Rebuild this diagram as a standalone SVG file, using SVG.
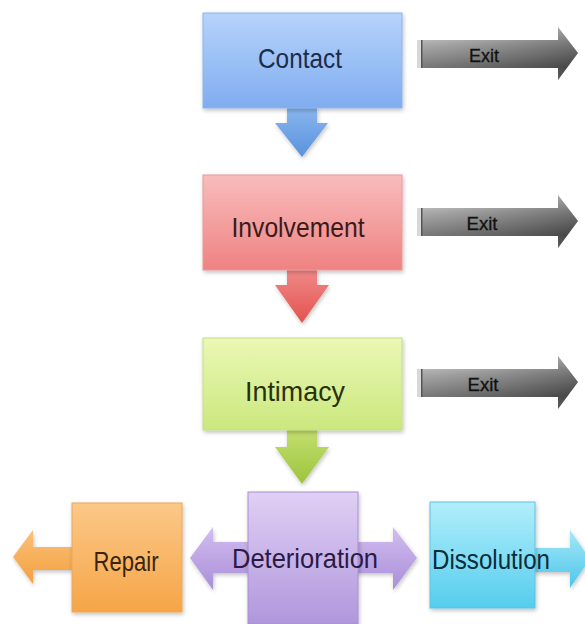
<svg xmlns="http://www.w3.org/2000/svg" width="585" height="624" viewBox="0 0 585 624">
<defs>
<style>
.lbl{font-family:"Liberation Sans","Open Sans",sans-serif;font-size:28px;text-anchor:middle}
.exit{font-family:"Liberation Sans","Open Sans",sans-serif;font-size:19px;text-anchor:middle;fill:#111;stroke:#111;stroke-width:0.3}
.box{stroke-width:1}
</style>
<linearGradient id="gBlue" x1="0" y1="0" x2="0" y2="1"><stop offset="0" stop-color="#b6d3fb"/><stop offset="1" stop-color="#80adf0"/></linearGradient>
<linearGradient id="gBlueA" x1="0" y1="0" x2="0" y2="1"><stop offset="0" stop-color="#8ab6ef"/><stop offset="1" stop-color="#5a92dc"/></linearGradient>
<linearGradient id="gRed" x1="0" y1="0" x2="0" y2="1"><stop offset="0" stop-color="#f9bcbc"/><stop offset="1" stop-color="#ef8282"/></linearGradient>
<linearGradient id="gRedA" x1="0" y1="0" x2="0" y2="1"><stop offset="0" stop-color="#f18a88"/><stop offset="1" stop-color="#e2534f"/></linearGradient>
<linearGradient id="gGreen" x1="0" y1="0" x2="0" y2="1"><stop offset="0" stop-color="#eaf8b4"/><stop offset="1" stop-color="#cbe87e"/></linearGradient>
<linearGradient id="gGreenA" x1="0" y1="0" x2="0" y2="1"><stop offset="0" stop-color="#c3df70"/><stop offset="1" stop-color="#9dc43c"/></linearGradient>
<linearGradient id="gOrange" x1="0" y1="0" x2="0" y2="1"><stop offset="0" stop-color="#fcc888"/><stop offset="1" stop-color="#f6a547"/></linearGradient>
<linearGradient id="gOrangeA" x1="0" y1="0" x2="0" y2="1"><stop offset="0" stop-color="#fbc078"/><stop offset="1" stop-color="#f3a040"/></linearGradient>
<linearGradient id="gPurple" x1="0" y1="0" x2="0" y2="1"><stop offset="0" stop-color="#e0cff5"/><stop offset="1" stop-color="#b097dc"/></linearGradient>
<linearGradient id="gPurpleA" x1="0" y1="0" x2="0" y2="1"><stop offset="0" stop-color="#d2bdf0"/><stop offset="1" stop-color="#a98fd8"/></linearGradient>
<linearGradient id="gCyan" x1="0" y1="0" x2="0" y2="1"><stop offset="0" stop-color="#b2eefb"/><stop offset="1" stop-color="#55cdee"/></linearGradient>
<linearGradient id="gCyanA" x1="0" y1="0" x2="0" y2="1"><stop offset="0" stop-color="#a6e8f8"/><stop offset="1" stop-color="#4cc6ea"/></linearGradient>
<linearGradient id="gExit" x1="0" y1="0" x2="0" y2="1"><stop offset="0" stop-color="#d4d4d4"/><stop offset="0.35" stop-color="#949494"/><stop offset="0.75" stop-color="#5a5a5a"/><stop offset="1" stop-color="#707070"/></linearGradient>
<linearGradient id="gExitH" x1="0" y1="0" x2="1" y2="0"><stop offset="0" stop-color="#ffffff" stop-opacity="0.2"/><stop offset="1" stop-color="#000000" stop-opacity="0.25"/></linearGradient>
<filter id="sh" x="-10%" y="-10%" width="130%" height="130%"><feGaussianBlur in="SourceAlpha" stdDeviation="2"/><feOffset dx="1" dy="2"/><feComponentTransfer><feFuncA type="linear" slope="0.25"/></feComponentTransfer><feMerge><feMergeNode/><feMergeNode in="SourceGraphic"/></feMerge></filter>
<g id="exitShape">
<path d="M0,-14 H141 V-27 L161,-1 L141,26 V14 H0 Z" fill="url(#gExit)"/>
<path d="M0,-14 H141 V-27 L161,-1 L141,26 V14 H0 Z" fill="url(#gExitH)"/>
<rect x="0" y="-14" width="4" height="28" fill="#d8d8d8"/>
<rect x="4" y="-14" width="1.5" height="28" fill="#555"/>
</g>
</defs>
<rect width="585" height="624" fill="#ffffff"/>

<g id="connectors">
<path d="M287,107 H317 V123 H328 L302,157 L275,123 H287 Z" fill="url(#gBlueA)" filter="url(#sh)"/>
<path d="M287,269 H317 V285 H329 L302,323 L275,285 H287 Z" fill="url(#gRedA)" filter="url(#sh)"/>
<path d="M287,429 H317 V447 H329 L302,484 L275,447 H287 Z" fill="url(#gGreenA)" filter="url(#sh)"/>
<path d="M73,547 H33 V530 L13,557 L33,584 V570 H73 Z" fill="url(#gOrangeA)" filter="url(#sh)"/>
<path d="M190,558 L213,527 V542 H393 V527 L417,558 L393,590 V573 H213 V590 Z" fill="url(#gPurpleA)" filter="url(#sh)"/>
<path d="M534,548 H570 V530 L590,559 L570,588 V572 H534 Z" fill="url(#gCyanA)" filter="url(#sh)"/>
</g>

<g id="exit1"><use href="#exitShape" x="417" y="54"/><text class="exit" x="484" y="62" textLength="30" lengthAdjust="spacingAndGlyphs">Exit</text></g>
<g id="exit2"><use href="#exitShape" x="417" y="222"/><text class="exit" x="482" y="230" textLength="31" lengthAdjust="spacingAndGlyphs">Exit</text></g>
<g id="exit3"><use href="#exitShape" x="417" y="383"/><text class="exit" x="483" y="391" textLength="31" lengthAdjust="spacingAndGlyphs">Exit</text></g>

<g id="contact">
<rect class="box" x="203" y="13" width="199" height="95" fill="url(#gBlue)" stroke="#8fb3e8" filter="url(#sh)"/>
<text class="lbl" x="300" y="68" fill="#1c2c4c" textLength="84" lengthAdjust="spacingAndGlyphs">Contact</text>
</g>
<g id="involvement">
<rect class="box" x="203" y="175" width="199" height="95" fill="url(#gRed)" stroke="#e89a9a" filter="url(#sh)"/>
<text class="lbl" x="298" y="237" fill="#3a1b1b" textLength="133" lengthAdjust="spacingAndGlyphs">Involvement</text>
</g>
<g id="intimacy">
<rect class="box" x="203" y="338" width="199" height="92" fill="url(#gGreen)" stroke="#c6dd88" filter="url(#sh)"/>
<text class="lbl" x="295" y="401" fill="#27310e" textLength="100" lengthAdjust="spacingAndGlyphs">Intimacy</text>
</g>
<g id="repair">
<rect class="box" x="72" y="503" width="110" height="109" fill="url(#gOrange)" stroke="#eaa85a" filter="url(#sh)"/>
<text class="lbl" x="126" y="571" fill="#3a2410" textLength="65" lengthAdjust="spacingAndGlyphs">Repair</text>
</g>
<g id="deterioration">
<rect class="box" x="248" y="492" width="110" height="132" fill="url(#gPurple)" stroke="#a88fd0" filter="url(#sh)"/>
<text class="lbl" x="305" y="568" fill="#2a1a44" textLength="146" lengthAdjust="spacingAndGlyphs">Deterioration</text>
</g>
<g id="dissolution">
<rect class="box" x="430" y="502" width="105" height="106" fill="url(#gCyan)" stroke="#5cc2e0" filter="url(#sh)"/>
<text class="lbl" x="491" y="569" fill="#0c2c3a" textLength="118" lengthAdjust="spacingAndGlyphs">Dissolution</text>
</g>
</svg>
